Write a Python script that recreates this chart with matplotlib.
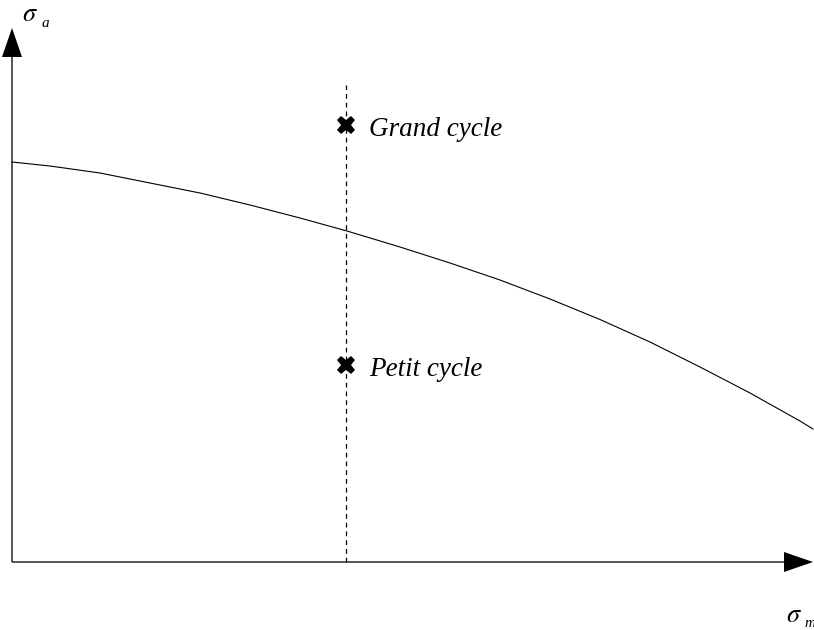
import matplotlib
matplotlib.use("Agg")
import matplotlib.pyplot as plt

# Data (units: origin at axes intersection)
curve_x = [0, 38, 88, 138, 188, 238, 288, 335, 388, 438, 488, 538, 588,
           638, 688, 738, 788, 801]
curve_y = [400, 396, 389, 379, 369, 357, 344, 331, 315, 299, 282, 263,
           242.5, 220, 195, 169, 141, 133]
cycle_x = [334, 334]
cycle_y = [437, 197]
cycle_labels = ["Grand cycle", "Petit cycle"]
dash_x = 334
dash_top = 477

plt.rcParams['mathtext.fontset'] = 'stix'

fig = plt.figure(figsize=(8.14, 6.30), dpi=100)
ax = fig.add_axes([0, 0, 1, 1])
ax.set_xlim(-12, 802)
ax.set_ylim(-68, 562)
ax.axis('off')

# axes arrows
ax.arrow(0, 0, 0, 505, width=1.3, head_width=20, head_length=29,
         length_includes_head=False, color='black', lw=0)
ax.arrow(0, 0, 772, 0, width=1.3, head_width=20, head_length=29,
         length_includes_head=False, color='black', lw=0)

# curve
ax.plot(curve_x, curve_y, color='black', lw=0.8)

# dashed line
ax.plot([dash_x, dash_x], [0, dash_top], color='black', lw=0.9,
        dashes=(3.8, 3.2))

# markers
ax.plot(cycle_x, cycle_y, linestyle='none', marker='X', color='black',
        markersize=13, markeredgewidth=0)
for x, y, lab in zip(cycle_x, cycle_y, cycle_labels):
    ax.text(x + 23, y - 11, lab, fontsize=19.5, family='Liberation Serif',
            style='italic', ha='left', va='baseline')

# axis labels
ax.text(10, 541, r'$\sigma$', fontsize=19, ha='left', va='baseline')
ax.text(30, 535, 'a', fontsize=11, family='Liberation Serif', style='italic',
        ha='left', va='baseline')
ax.text(774, -60, r'$\sigma$', fontsize=19, ha='left', va='baseline')
ax.text(792, -65, 'm', fontsize=11, family='Liberation Serif', style='italic',
        ha='left', va='baseline')

fig.savefig('out.png', dpi=100)
